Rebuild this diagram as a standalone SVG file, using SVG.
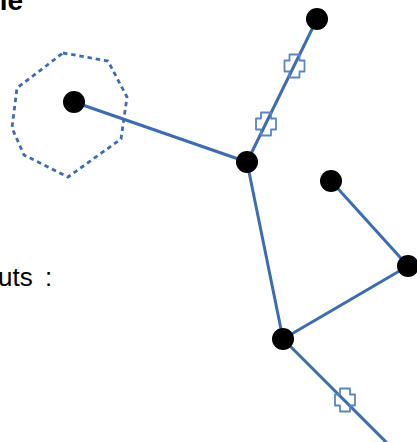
<svg xmlns="http://www.w3.org/2000/svg" width="417" height="442" viewBox="0 0 417 442">
<defs>
<style>
.edge{stroke:#3c6cb2;stroke-width:3;fill:none;stroke-linecap:round}
.node{fill:#000}
.mark{fill:none;stroke:#5a85c4;stroke-width:1.8;stroke-linejoin:round}
.zone{fill:none;stroke:#3c6cb2;stroke-width:2.8;stroke-dasharray:4.5 3.8}
.t{font-family:"Liberation Sans",Arial,sans-serif;fill:#000}
</style>
<path id="cross" d="M-5,-11.5H5V-5.5H10V5.5H5V11.5H-5V5.5H-10V-5.5H-5Z"/>
</defs>
<rect width="417" height="442" fill="#fff"/>
<text class="t" x="23" y="10" font-size="28" font-weight="bold" text-anchor="end">le</text>
<text class="t" x="-2" y="286" font-size="26" word-spacing="5">uts :</text>
<polygon class="zone" points="63,53 108,61 127,97 121,139 68,177 24,155 12,128 17,88"/>
<g id="connectors">
<line class="edge" x1="74" y1="102" x2="247" y2="162"/>
<line class="edge" x1="247" y1="162" x2="317" y2="19"/>
<line class="edge" x1="247" y1="162" x2="283" y2="339"/>
<line class="edge" x1="331" y1="181" x2="408" y2="266"/>
<line class="edge" x1="283" y1="339" x2="408" y2="266"/>
<line class="edge" x1="283" y1="339" x2="390" y2="446"/>
<use href="#cross" class="mark" x="294.5" y="66"/>
<use href="#cross" class="mark" x="266" y="124"/>
<use href="#cross" class="mark" x="345" y="400"/>
</g>
<g id="nA"><circle class="node" cx="74" cy="102" r="11"/></g>
<g id="nB"><circle class="node" cx="247" cy="162" r="11"/></g>
<g id="nC"><circle class="node" cx="317" cy="19" r="11"/></g>
<g id="nD"><circle class="node" cx="331" cy="181" r="11"/></g>
<g id="nE"><circle class="node" cx="408" cy="266" r="11"/></g>
<g id="nF"><circle class="node" cx="283" cy="339" r="11"/></g>
</svg>
